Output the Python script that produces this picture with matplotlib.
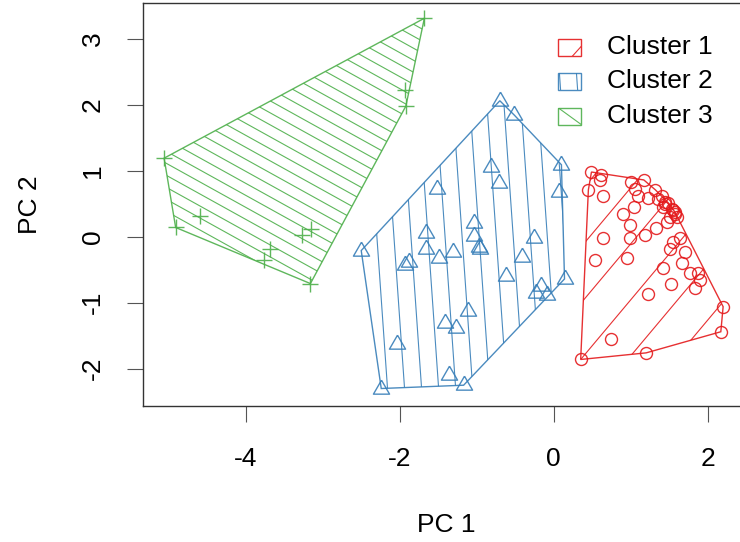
"""PCA scatter of three clusters with hatched convex hulls (PC 1 vs PC 2)."""
import numpy as np
import matplotlib
matplotlib.use("Agg")
import matplotlib.pyplot as plt
from matplotlib.patches import Polygon
from matplotlib.lines import Line2D

plt.rcParams["font.family"] = ["Liberation Sans", "DejaVu Sans"]

# --- PC scores per cluster ---
c1_x = [0.49, 0.62, 0.60, 0.45, 0.64, 1.00, 1.17, 1.06, 1.32, 1.22, 1.40, 1.45,
        1.49, 1.42, 1.55, 1.58, 1.51, 1.60, 1.47, 0.90, 1.04, 0.99, 1.33, 1.19,
        0.99, 0.64, 0.54, 0.95, 1.55, 1.64, 1.51, 1.71, 1.42, 1.66, 1.77, 1.88,
        1.90, 1.83, 1.52, 1.22, 2.20, 2.17, 0.75, 1.20, 0.35, 1.36, 1.44, 1.53,
        1.57, 1.10]
c1_y = [0.98, 0.93, 0.86, 0.71, 0.61, 0.83, 0.86, 0.73, 0.71, 0.58, 0.61, 0.53,
        0.51, 0.45, 0.40, 0.35, 0.30, 0.30, 0.23, 0.35, 0.45, 0.18, 0.13, 0.03,
        -0.02, -0.02, -0.35, -0.33, -0.08, -0.02, -0.18, -0.23, -0.48, -0.40,
        -0.55, -0.55, -0.66, -0.78, -0.71, -0.87, -1.06, -1.44, -1.55, -1.76,
        -1.86, 0.57, 0.50, 0.42, 0.38, 0.62]

c2_x = [-0.70, -0.51, 0.10, 0.07, -0.81, -0.71, -1.52, -1.04, -1.03, -0.97,
        -0.96, -1.66, -1.66, -1.49, -1.31, -1.88, -1.93, -2.50, -0.26, -0.41,
        -0.62, 0.14, -0.16, -0.23, -0.09, -1.11, -1.41, -1.27, -2.03, -1.36,
        -1.17, -2.24]
c2_y = [2.06, 1.84, 1.09, 0.68, 1.06, 0.82, 0.72, 0.21, 0.01, -0.15,
        -0.18, 0.05, -0.19, -0.32, -0.23, -0.38, -0.43, -0.21, -0.02, -0.30,
        -0.60, -0.64, -0.75, -0.86, -0.88, -1.13, -1.31, -1.39, -1.63, -2.10,
        -2.25, -2.30]

c3_x = [-1.68, -1.93, -1.92, -5.06, -4.60, -4.91, -3.15, -3.27, -3.69, -3.76, -3.16]
c3_y = [3.31, 2.22, 1.98, 1.19, 0.31, 0.14, 0.12, 0.03, -0.18, -0.35, -0.71]

labels = ["Cluster 1", "Cluster 2", "Cluster 3"]
colors = ["#E41A1C", "#377EB8", "#4DAF4A"]

x_ticks = [-4, -2, 0, 2]
y_ticks = [-2, -1, 0, 1, 2, 3]


def convex_hull(xs, ys):
    pts = sorted(set(zip(xs, ys)))

    def cross(o, a, b):
        return (a[0] - o[0]) * (b[1] - o[1]) - (a[1] - o[1]) * (b[0] - o[0])

    lower, upper = [], []
    for p in pts:
        while len(lower) >= 2 and cross(lower[-2], lower[-1], p) <= 0:
            lower.pop()
        lower.append(p)
    for p in reversed(pts):
        while len(upper) >= 2 and cross(upper[-2], upper[-1], p) <= 0:
            upper.pop()
        upper.append(p)
    return np.array(lower[:-1] + upper[:-1])


def hatch(ax, verts, angle, spacing, color, anchor, lw=0.8):
    """Shade a polygon with parallel lines, angle/spacing in screen pixels."""
    patch = Polygon(verts, closed=True, fill=False, edgecolor=color,
                    linewidth=1.0, alpha=0.9, zorder=2)
    ax.add_patch(patch)
    px = ax.transData.transform(verts)
    a = ax.transData.transform(anchor)
    th = np.radians(angle)
    d = np.array([np.cos(th), np.sin(th)])
    n = np.array([-d[1], d[0]])
    proj = px @ n
    a0 = a @ n
    k0 = np.floor((proj.min() - a0) / spacing) - 1
    k1 = np.ceil((proj.max() - a0) / spacing) + 1
    big = 3000
    inv = ax.transData.inverted()
    for k in np.arange(k0, k1 + 1):
        p = a + k * spacing * n
        seg = inv.transform(np.array([p - big * d, p + big * d]))
        ln = Line2D(seg[:, 0], seg[:, 1], color=color, linewidth=lw,
                    alpha=0.9, zorder=2)
        ax.add_line(ln)
        ln.set_clip_path(patch)


W, H = 740, 542
fig = plt.figure(figsize=(W / 100, H / 100), dpi=100)
# plot region runs past the right edge of the canvas
left, right, top, bottom = 142.7, 749.0, 3.0, 406.0
ax = fig.add_axes([left / W, 1 - bottom / H, (right - left) / W, (bottom - top) / H])
ax.set_xlim(-5.338, 2.536)
ax.set_ylim(-2.565, 3.541)

clusters = [(c1_x, c1_y), (c2_x, c2_y), (c3_x, c3_y)]
hatch_style = [(50, 36), (94, 17), (151, 10.5)]

for i, (xs, ys) in enumerate(clusters):
    hull = convex_hull(xs, ys)
    ang, sp = hatch_style[i]
    if i == 0:
        anchor = hull[np.argmin(hull[:, 1])]
    elif i == 1:
        anchor = (min(xs) + 0.12, min(ys))
    else:
        anchor = hull[np.argmax(hull[:, 1])]
    hatch(ax, hull, ang, sp, colors[i], anchor)

# R-style plotting symbols: s is the symbol size in points
s = 11.5
tri = [(0, 1.555), (1.347, -0.778), (-1.347, -0.778), (0, 1.555)]
ax.plot(c1_x, c1_y, "o", ms=0.75 * s, mfc="none", mec=colors[0], mew=1.0,
        alpha=0.9, zorder=3)
ax.plot(c2_x, c2_y, ls="none", marker=tri, ms=2 * 0.583 * s, mfc="none",
        mec=colors[1], mew=1.0, alpha=0.9, zorder=3)
ax.plot(c3_x, c3_y, "+", ms=1.06 * s, mec=colors[2], mew=1.0, alpha=0.9, zorder=3)

# legend drawn by hand: small hatched boxes + labels
inv = ax.transData.inverted()
box_w, box_h = 23, 17
leg_x, leg_y0, leg_dy = 558, 47, 34.5
leg_hatch = [(48, 36, (box_w - 8, 0)), (94, 17, (2, box_h / 2)),
             (-36, 60, (box_w / 2, box_h / 2))]
for i, lab in enumerate(labels):
    cy = leg_y0 + i * leg_dy
    corners = np.array([[leg_x, H - cy - box_h / 2], [leg_x + box_w, H - cy - box_h / 2],
                        [leg_x + box_w, H - cy + box_h / 2], [leg_x, H - cy + box_h / 2]])
    ang, sp, (ox, oy) = leg_hatch[i]
    anchor = inv.transform([leg_x + ox, H - cy - box_h / 2 + oy])
    hatch(ax, inv.transform(corners), ang, sp, colors[i], anchor)
    ax.text(*inv.transform([607, H - cy]), lab, fontsize=19,
            va="center", ha="left", color="black")

ax.set_xticks(x_ticks)
ax.set_yticks(y_ticks)
ax.set_xticklabels([str(v) for v in x_ticks])
ax.set_yticklabels([str(v) for v in y_ticks], rotation=90, va="center")
ax.tick_params(direction="out", length=11.5, width=0.8, color="#555555",
               labelsize=19)
ax.tick_params(axis="x", pad=18)
ax.tick_params(axis="y", pad=16)
for sp_ in ax.spines.values():
    sp_.set_linewidth(1.0)
    sp_.set_color("#333333")
ax.set_xlabel("PC 1", fontsize=19, labelpad=30)
ax.set_ylabel("PC 2", fontsize=19, labelpad=28)

fig.savefig("out.png", dpi=100)
